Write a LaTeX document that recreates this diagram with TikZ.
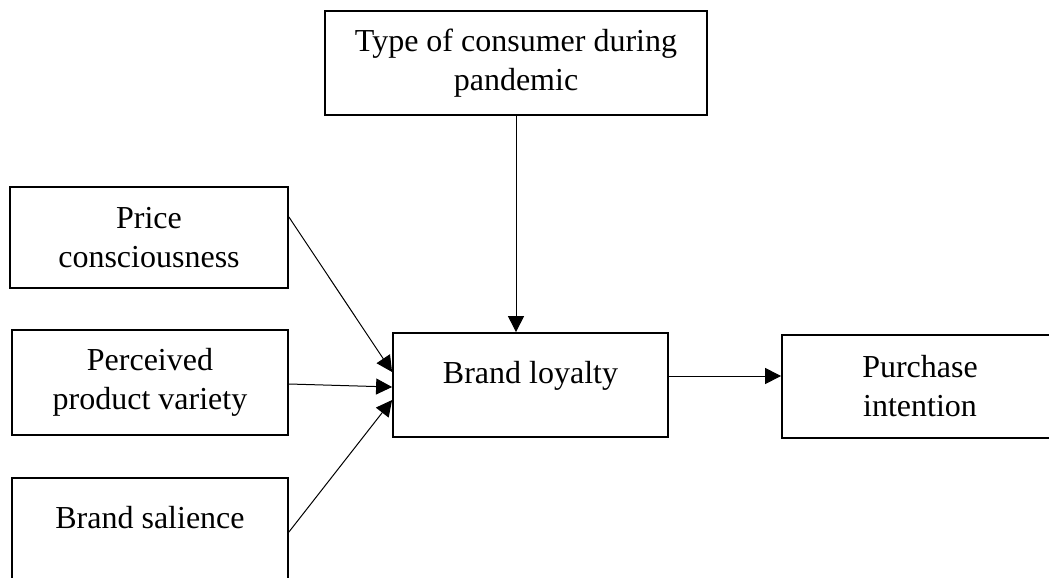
\documentclass[tikz,border=0pt]{standalone}
\usepackage{fontspec}
\setmainfont{Liberation Serif}
\usetikzlibrary{arrows.meta}

\tikzset{
  varbox/.style={draw, line width=0.9pt, align=center, inner sep=0pt,
    font=\fontsize{16}{19.5}\selectfont},
  link/.style={-{Triangle[length=8pt,width=8pt]}, line width=0.5pt},
}

\begin{document}
\begin{tikzpicture}[x=0.5pt, y=-0.5pt]
    \useasboundingbox (0,0) rectangle (1049,578);
    \clip (0,0) rectangle (1049,578);

    % moderator on top
    \node[varbox, minimum width=191pt, minimum height=52pt] (consumer) at (516,63) {Type of consumer during\\pandemic};

    % the three antecedents
    \node[varbox, minimum width=139pt, minimum height=50.5pt] (price) at (149,237.5) {Price\\consciousness};
    \node[varbox, minimum width=138pt, minimum height=52.5pt] (variety) at (150,382.5) {Perceived\\product variety};
    \node[varbox, minimum width=138pt, minimum height=56pt, text height=12pt, text depth=18pt] (salience) at (150,534) {Brand salience};

    % mediator and outcome
    \node[varbox, minimum width=137.5pt, minimum height=52pt, text height=12pt, text depth=14pt] (loyalty) at (530.5,385) {Brand loyalty};
    \node[varbox, minimum width=138pt, minimum height=51.5pt] (purchase) at (920,386.5) {Purchase\\intention};

    \draw[link] ([yshift=10.25pt]price.east) -- ([yshift=6.5pt]loyalty.west);     % price -- loyalty
    \draw[link] ([yshift=-0.75pt]variety.east) -- ([yshift=-1pt]loyalty.west);    % variety -- loyalty
    \draw[link] ([yshift=1pt]salience.east) -- ([yshift=-7.5pt]loyalty.west);     % salience -- loyalty
    \draw[link] (consumer.south) -- (consumer.south |- loyalty.north);            % consumer -- loyalty
    \draw[link] ([yshift=4.5pt]loyalty.east) -- ([yshift=4.5pt]loyalty.east -| purchase.west); % loyalty -- purchase
\end{tikzpicture}
\end{document}
